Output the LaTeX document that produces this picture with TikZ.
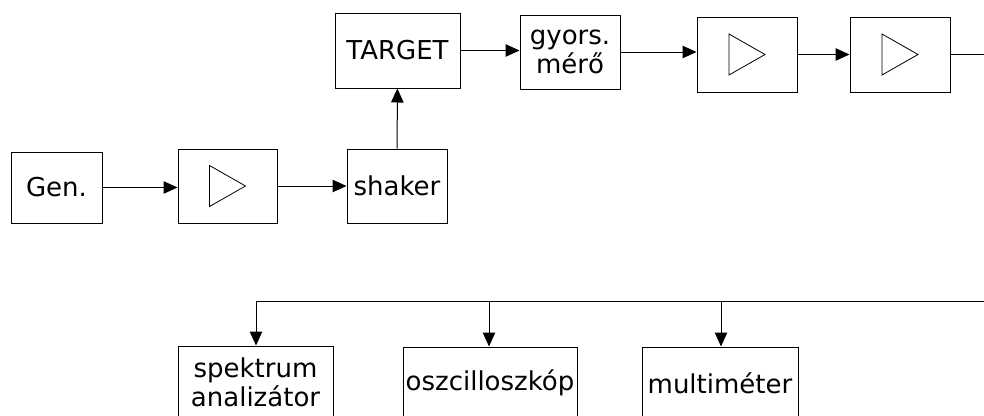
\documentclass[tikz,border=0pt]{standalone}
\usepackage{fontspec}
\setmainfont{DejaVu Sans}
\usetikzlibrary{arrows.meta}
\tikzset{
  box/.style={draw, line width=1pt, rectangle, inner sep=0pt, align=center,
    font=\fontsize{26}{28.5}\selectfont},
  ampbox/.style={box, path picture={\draw[line width=0.8pt]
     ([xshift=-18pt,yshift=20.5pt]path picture bounding box.center) -- ++(36pt,-20.5pt) -- ++(-36pt,-20.5pt) -- cycle;}},
  arr/.style={line width=1pt, -{Triangle[length=14pt,width=12.5pt]}},
  ln/.style={line width=1pt}
}
\begin{document}
\begin{tikzpicture}[x=1pt,y=-1pt]
\clip (0,0) rectangle (984,415);
\node[box, minimum width=91pt, minimum height=71pt] (gen) at (56.5,187.5) {Gen.};
\node[ampbox, minimum width=99pt, minimum height=74pt] (amp1) at (227.5,186) {};
\node[box, minimum width=100pt, minimum height=74pt] (shaker) at (397,186) {shaker};
\node[box, minimum width=125pt, minimum height=75pt] (target) at (397.5,50.5) {TARGET};
\node[box, minimum width=100pt, minimum height=74pt] (gyors) at (570,52) {gyors.\\mérő};
\node[ampbox, minimum width=100pt, minimum height=75pt] (amp2) at (747,54.5) {};
\node[ampbox, minimum width=100pt, minimum height=75pt] (amp3) at (900,54.5) {};
\node[box, minimum width=155pt, minimum height=73pt] (spek) at (255.5,382.5) {spektrum\\analizátor};
\node[box, minimum width=174pt, minimum height=72pt] (oszc) at (490,383) {oszcilloszkóp};
\node[box, minimum width=156pt, minimum height=72pt] (multi) at (720,383) {multiméter};
\coordinate (outR) at (990,53);
\coordinate (busR) at (990,301);
\coordinate (busS) at (256,301);
\coordinate (busO) at (489,301);
\coordinate (busM) at (721,301);

\draw[arr] (gen.east) -- (gen.east -| amp1.west);
\draw[arr] (amp1) -- (shaker);
\draw[arr] (shaker) -- (target);
\draw[arr] (target.east) -- (target.east -| gyors.west);
\draw[arr] (gyors.east) -- (gyors.east -| amp2.west);
\draw[arr] (amp2) -- (amp3);
\draw[ln] (amp3.east) -- (amp3.east -| outR);
\draw[ln] (busR) -- (busS);
\draw[arr] (busS) -- (busS |- spek.north);
\draw[arr] (busO) -- (busO |- oszc.north);
\draw[arr] (busM) -- (busM |- multi.north);
\end{tikzpicture}
\end{document}
